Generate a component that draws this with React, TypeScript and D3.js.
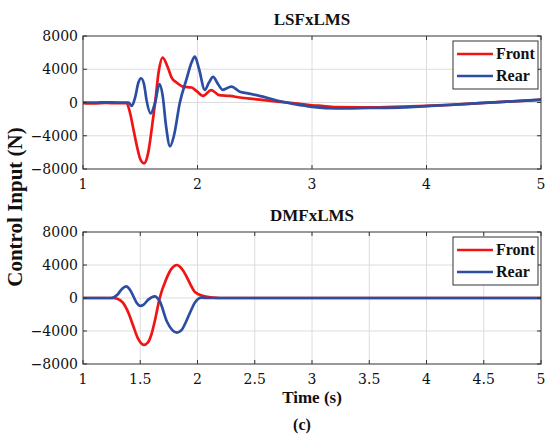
import React, { useEffect, useRef } from 'react';
import * as d3 from 'd3';

// LSFxLMS panel (top)
const frontTopTime = [1.0, 1.1, 1.2, 1.3, 1.38, 1.41, 1.44, 1.47, 1.5, 1.533, 1.57, 1.6, 1.63, 1.66, 1.696, 1.736, 1.774, 1.817, 1.875, 1.948, 1.99, 2.05, 2.12, 2.19, 2.28, 2.37, 2.5, 2.6, 2.72, 2.85, 3.0, 3.1, 3.22, 3.5, 3.8, 4.0, 4.2, 4.5, 4.7, 5.0];
const frontTop = [-80, -120, -60, -80, -80, -1200, -3200, -5200, -6800, -7320, -6000, -3200, 0, 3600, 5400, 4400, 3000, 2400, 1900, 1800, 1400, 800, 1500, 880, 800, 600, 400, 250, 80, -100, -340, -420, -560, -580, -480, -400, -280, -50, 100, 320];

const rearTopTime = [1.0, 1.1, 1.2, 1.3, 1.397, 1.426, 1.455, 1.484, 1.507, 1.533, 1.556, 1.59, 1.63, 1.667, 1.696, 1.725, 1.76, 1.794, 1.846, 1.904, 1.948, 1.977, 2.014, 2.064, 2.1, 2.136, 2.18, 2.22, 2.296, 2.37, 2.44, 2.54, 2.6, 2.72, 2.85, 3.0, 3.22, 3.5, 3.8, 4.0, 4.2, 4.5, 4.7, 5.0];
const rearTop = [0, -20, 30, 0, 0, -400, 600, 2400, 2920, 2200, 200, -1320, 0, 2200, 800, -2800, -5280, -4000, 0, 2800, 4800, 5520, 4000, 1520, 2400, 3080, 2200, 1520, 1920, 1280, 1100, 800, 600, 150, -200, -520, -720, -660, -580, -440, -300, -50, 100, 350];

// DMFxLMS panel (bottom)
const frontBottomTime = [1.0, 1.26, 1.3, 1.348, 1.4, 1.436, 1.48, 1.53, 1.566, 1.596, 1.63, 1.67, 1.728, 1.77, 1.82, 1.86, 1.9, 1.94, 1.977, 2.05, 2.14, 2.2, 5.0];
const frontBottom = [0, 0, -100, -560, -1900, -3280, -4900, -5680, -5400, -4480, -2600, 0, 2320, 3500, 4000, 3600, 2720, 1600, 720, 240, 40, 0, 0];

const rearBottomTime = [1.0, 1.245, 1.3, 1.34, 1.377, 1.41, 1.436, 1.47, 1.5, 1.53, 1.57, 1.626, 1.67, 1.734, 1.78, 1.82, 1.86, 1.9, 1.94, 1.977, 2.035, 2.1, 5.0];
const rearBottom = [0, 0, 400, 1100, 1400, 1000, 320, -600, -960, -800, -200, 200, -400, -2880, -3900, -4200, -3900, -2880, -1600, -560, 50, 0, 0];

const yTicks = [-8000, -4000, 0, 4000, 8000];
const xTicksTop = [1, 2, 3, 4, 5];
const xTicksBottom = [1, 1.5, 2, 2.5, 3, 3.5, 4, 4.5, 5];
const seriesNames = ['Front', 'Rear'];
const seriesColors = ['#f01414', '#2b4ea2'];

const FONT = '"Liberation Serif", "Times New Roman", serif';
const TICK_FONT = '"DejaVu Serif", serif';

export default function App() {
  const svgRef = useRef<SVGSVGElement>(null);

  useEffect(() => {
    if (!svgRef.current) return;
    const svg = d3.select(svgRef.current);
    svg.selectAll('*').remove();

    const width = 550;
    const height = 439;
    svg.attr('width', width).attr('height', height);

    svg.append('rect').attr('width', width).attr('height', height).attr('fill', '#fff');

    const x = d3.scaleLinear().domain([1, 5]).range([83, 541]);

    const panels = [
      { title: 'LSFxLMS', top: 36, bottom: 169, ticks: xTicksTop, titleY: 25,
        series: [[frontTopTime, frontTop], [rearTopTime, rearTop]] },
      { title: 'DMFxLMS', top: 232, bottom: 364, ticks: xTicksBottom, titleY: 221,
        series: [[frontBottomTime, frontBottom], [rearBottomTime, rearBottom]] },
    ];

    panels.forEach((p) => {
      const y = d3.scaleLinear().domain([-8000, 8000]).range([p.bottom, p.top]);
      const g = svg.append('g');

      // grid
      g.selectAll('.gx').data(p.ticks.slice(1, -1)).enter().append('line')
        .attr('x1', (d) => x(d)).attr('x2', (d) => x(d))
        .attr('y1', p.top).attr('y2', p.bottom)
        .attr('stroke', '#dcdcdc').attr('stroke-width', 1);
      g.selectAll('.gy').data(yTicks.slice(1, -1)).enter().append('line')
        .attr('x1', x(1)).attr('x2', x(5))
        .attr('y1', (d) => y(d)).attr('y2', (d) => y(d))
        .attr('stroke', '#dcdcdc').attr('stroke-width', 1);

      // curves
      p.series.forEach(([ts, vs], i) => {
        const pts = ts.map((t, k) => [t, vs[k]] as [number, number]);
        const line = d3.line<[number, number]>()
          .x((d) => x(d[0]))
          .y((d) => y(d[1]))
          .curve(d3.curveMonotoneX);
        g.append('path')
          .attr('d', line(pts) || '')
          .attr('fill', 'none')
          .attr('stroke', seriesColors[i])
          .attr('stroke-width', 2.7)
          .attr('stroke-linejoin', 'round');
      });

      // frame
      g.append('rect')
        .attr('x', x(1)).attr('y', p.top)
        .attr('width', x(5) - x(1)).attr('height', p.bottom - p.top)
        .attr('fill', 'none').attr('stroke', '#333').attr('stroke-width', 1);

      // ticks (inward)
      p.ticks.forEach((t) => {
        g.append('line').attr('x1', x(t)).attr('x2', x(t))
          .attr('y1', p.bottom).attr('y2', p.bottom - 4).attr('stroke', '#333');
        g.append('line').attr('x1', x(t)).attr('x2', x(t))
          .attr('y1', p.top).attr('y2', p.top + 4).attr('stroke', '#333');
        g.append('text').attr('x', x(t)).attr('y', p.bottom + 20)
          .attr('text-anchor', 'middle').attr('font-family', TICK_FONT)
          .attr('font-size', 14).attr('fill', '#111')
          .text(String(t));
      });
      yTicks.forEach((v) => {
        g.append('line').attr('x1', x(1)).attr('x2', x(1) + 4)
          .attr('y1', y(v)).attr('y2', y(v)).attr('stroke', '#333');
        g.append('line').attr('x1', x(5)).attr('x2', x(5) - 4)
          .attr('y1', y(v)).attr('y2', y(v)).attr('stroke', '#333');
        g.append('text').attr('x', x(1) - 5).attr('y', y(v) + 5)
          .attr('text-anchor', 'end').attr('font-family', TICK_FONT)
          .attr('font-size', 14).attr('fill', '#111')
          .text(v < 0 ? `\u2212${-v}` : String(v));
      });

      // title
      g.append('text').attr('x', (x(1) + x(5)) / 2).attr('y', p.titleY)
        .attr('text-anchor', 'middle').attr('font-family', FONT)
        .attr('font-size', 17).attr('font-weight', 'bold').attr('fill', '#111')
        .text(p.title);

      // legend
      const lx = 453;
      const ly = p.top + 5;
      const lg = g.append('g');
      lg.append('rect').attr('x', lx).attr('y', ly).attr('width', 85).attr('height', 48)
        .attr('fill', '#fff').attr('stroke', '#333').attr('stroke-width', 1);
      seriesNames.forEach((name, i) => {
        const yy = ly + 13 + i * 22;
        lg.append('line').attr('x1', lx + 4).attr('x2', lx + 40)
          .attr('y1', yy).attr('y2', yy)
          .attr('stroke', seriesColors[i]).attr('stroke-width', 2.7);
        lg.append('text').attr('x', lx + 43).attr('y', yy + 5)
          .attr('font-family', FONT).attr('font-size', 16).attr('font-weight', 'bold')
          .attr('fill', '#111').text(name);
      });
    });

    // axis labels
    svg.append('text')
      .attr('transform', `translate(22,207) rotate(-90)`)
      .attr('text-anchor', 'middle').attr('font-family', FONT)
      .attr('font-size', 21).attr('font-weight', 'bold').attr('fill', '#111')
      .text('Control Input (N)');
    svg.append('text').attr('x', 312).attr('y', 403)
      .attr('text-anchor', 'middle').attr('font-family', FONT)
      .attr('font-size', 17).attr('font-weight', 'bold').attr('fill', '#111')
      .text('Time (s)');
    svg.append('text').attr('x', 302).attr('y', 430)
      .attr('text-anchor', 'middle').attr('font-family', FONT)
      .attr('font-size', 16).attr('font-weight', 'bold').attr('fill', '#111')
      .text('(c)');
  }, []);

  return (
    <svg ref={svgRef} style={{ position: 'absolute', left: 0, top: 0, display: 'block' }} />
  );
}
